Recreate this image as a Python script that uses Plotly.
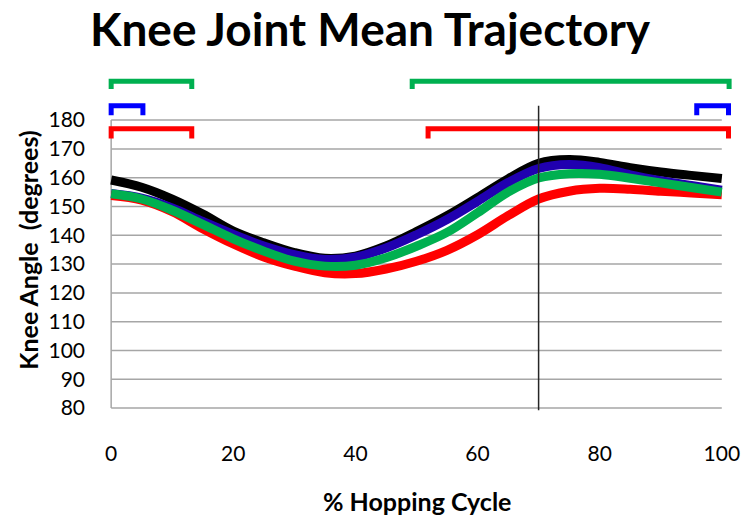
import plotly.graph_objects as go

# % of hopping cycle at which the mean knee angle is sampled
cycle_pct = [0, 5, 10, 15, 20, 25, 30, 35, 40, 45, 50,
             55, 60, 65, 70, 75, 80, 85, 90, 95, 100]

# Mean knee angle (degrees) for each condition
knee_black = [159.2, 156.7, 152.6, 147.4, 141.5, 137.4, 134.0, 132.0, 132.8, 136.3, 141.3,
              146.8, 153.1, 159.6, 165.0, 166.3, 165.3, 163.5, 162.0, 160.8, 159.7]
knee_blue = [154.5, 152.9, 149.5, 144.8, 140.3, 136.3, 133.3, 131.6, 132.4, 135.6, 140.2,
             145.5, 151.8, 158.3, 163.2, 164.6, 163.5, 161.0, 159.0, 157.3, 155.7]
knee_red = [153.8, 152.2, 148.2, 142.3, 137.0, 132.5, 129.3, 127.0, 126.7, 128.3, 131.0,
            134.8, 140.2, 146.8, 152.6, 155.3, 156.3, 156.0, 155.3, 154.7, 154.1]
knee_green = [154.4, 152.6, 148.7, 143.8, 138.8, 134.5, 131.0, 129.3, 129.6, 132.2, 136.2,
              141.0, 147.8, 155.0, 159.9, 161.4, 161.2, 159.8, 158.2, 156.6, 155.0]

# Axis ticks
x_ticks = [0, 20, 40, 60, 80, 100]
y_ticks = [80, 90, 100, 110, 120, 130, 140, 150, 160, 170, 180]

# Vertical marker at this % of the cycle
marker_pct = 70

# Bracketed intervals of the cycle: (start %, end %), bar level, tip level
green_spans = [(0, 13.2), (49.3, 101.2)]
green_level = (193.5, 190.8)
blue_spans = [(0, 5.2), (95.9, 101.1)]
blue_level = (185.0, 181.7)
red_spans = [(0, 13.2), (51.9, 101.1)]
red_level = (177.0, 173.6)

fig = go.Figure()

# horizontal gridlines limited to the data range
for v in y_ticks:
    fig.add_shape(type="line", xref="x", yref="y", x0=0, x1=100, y0=v, y1=v,
                  line=dict(color="#A6A6A6", width=1.5), layer="below")
# left axis line
fig.add_shape(type="line", xref="x", yref="y", x0=0, x1=0, y0=y_ticks[0], y1=y_ticks[-1],
              line=dict(color="#A6A6A6", width=1.5), layer="below")

series = [
    (knee_black, "#000000"),
    (knee_blue, "#2000B0"),
    (knee_red, "#FF0000"),
    (knee_green, "#00B050"),
]
for vals, col in series:
    fig.add_trace(go.Scatter(
        x=cycle_pct, y=vals, mode="lines",
        line=dict(color=col, width=9, shape="spline", smoothing=1),
        hoverinfo="skip", showlegend=False,
    ))

# interval brackets
for spans, (lev, tip), col in [(green_spans, green_level, "#00B050"),
                                (blue_spans, blue_level, "#0000FF"),
                                (red_spans, red_level, "#FF0000")]:
    for a, b in spans:
        fig.add_trace(go.Scatter(
            x=[a, a, b, b], y=[tip, lev, lev, tip], mode="lines",
            line=dict(color=col, width=5),
            hoverinfo="skip", showlegend=False,
        ))

# vertical marker line
fig.add_shape(type="line", xref="x", yref="y", x0=marker_pct, x1=marker_pct,
              y0=79.3, y1=185, line=dict(color="#262626", width=1.5), layer="above")

fig.add_annotation(text="Knee Angle\u00a0\u00a0(degrees)", xref="paper", yref="paper",
                   x=(27 - 102) / 638, y=1 - (250 - 74) / 337, textangle=-90,
                   showarrow=False, xanchor="center", yanchor="middle",
                   font=dict(family="Lato", size=25, color="#000000", weight="bold"))
fig.add_annotation(text="% Hopping Cycle", xref="paper", yref="paper",
                   x=(420 - 102) / 638, y=1 - (501 - 74) / 337,
                   showarrow=False, xanchor="center", yanchor="middle",
                   font=dict(family="Lato", size=25, color="#000000", weight="bold"))

fig.update_layout(
    width=750, height=519,
    margin=dict(l=102, r=10, t=74, b=108),
    paper_bgcolor="white", plot_bgcolor="white",
    title=dict(text="<b>Knee Joint Mean Trajectory</b>", x=370 / 750, xref="container",
               xanchor="center", y=1 - 30 / 519, yref="container", yanchor="middle",
               font=dict(family="Lato", size=46, color="#000000")),
    xaxis=dict(range=[-1.5, 102], tickvals=x_ticks, showgrid=False, zeroline=False,
               showline=False, ticks="", ticklabelstandoff=28,
               tickfont=dict(family="Lato", size=21, color="#000000")),
    yaxis=dict(range=[79, 196], tickvals=y_ticks, showgrid=False, zeroline=False,
               showline=False, ticks="", ticklabelstandoff=16,
               tickfont=dict(family="Lato", size=21, color="#000000")),
)

fig.write_html("out.html")
